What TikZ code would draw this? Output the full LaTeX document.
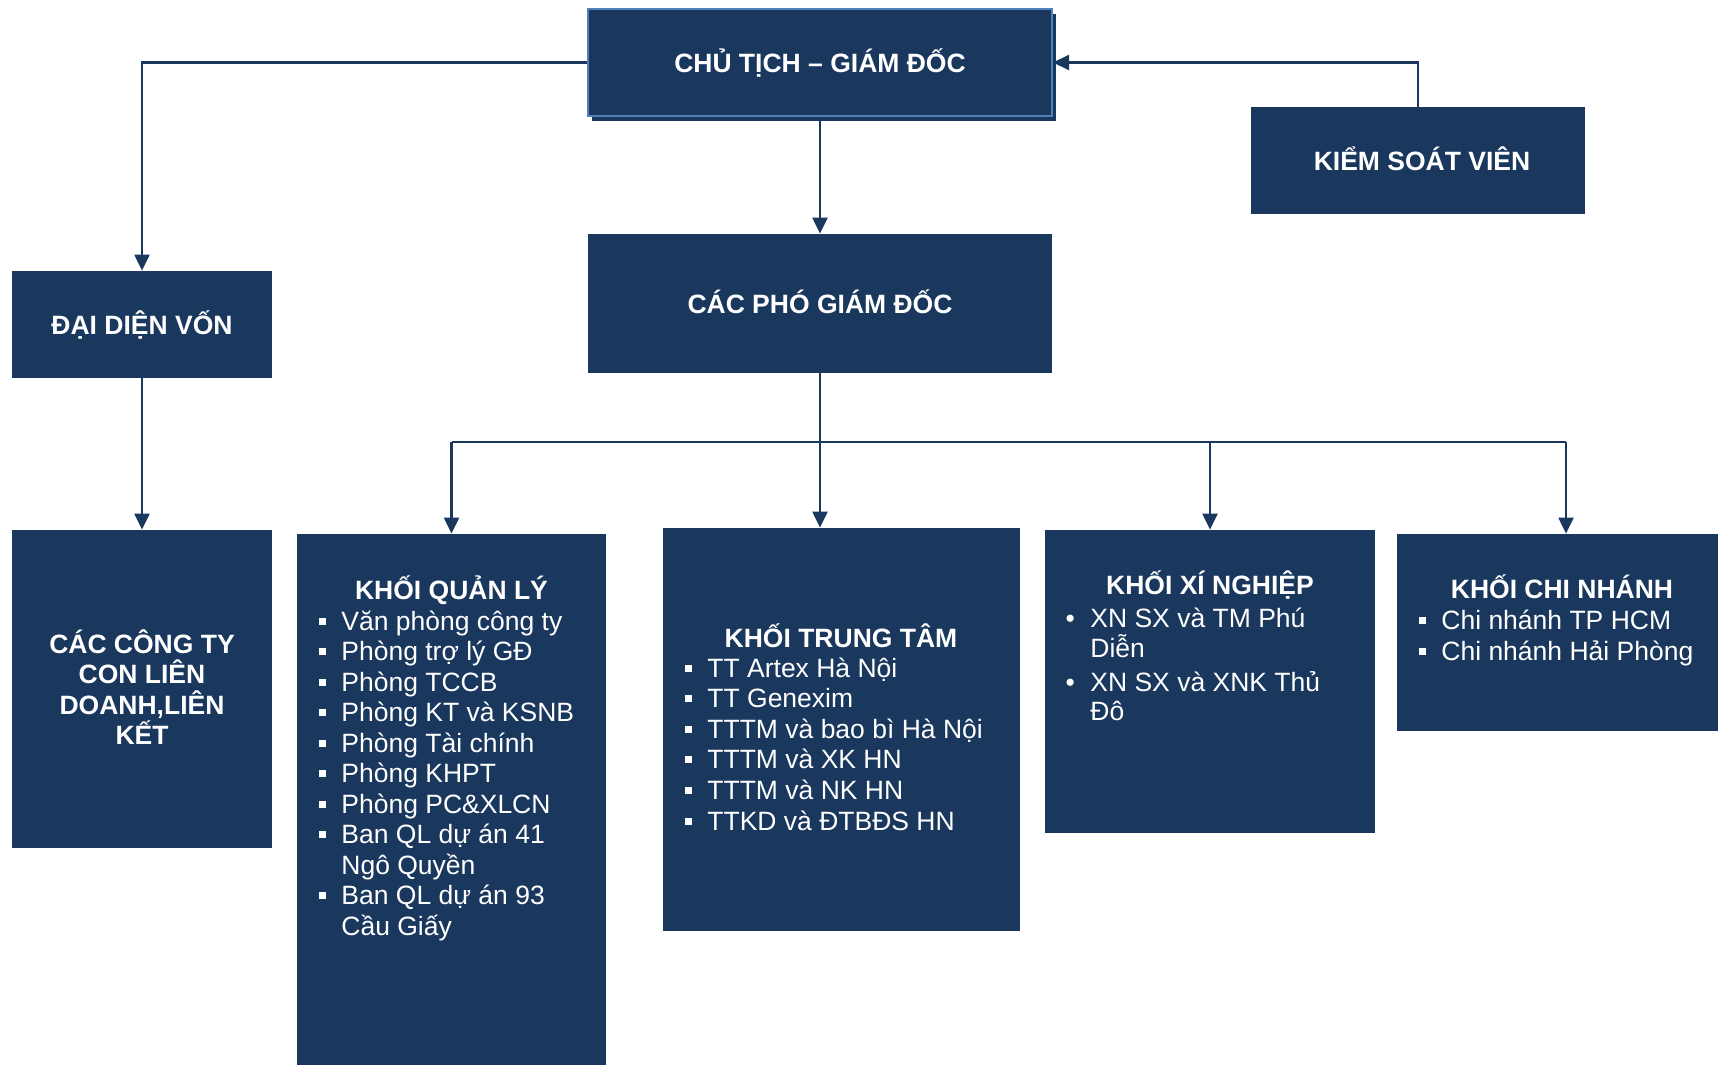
\documentclass[tikz,border=0pt]{standalone}
\usepackage{fontspec}
\setmainfont{Liberation Sans}
\usetikzlibrary{arrows.meta}
\definecolor{navy}{HTML}{1A375E}
\definecolor{edgeblue}{HTML}{4F81BD}
\newcommand\bsq{\llap{\rule[2.75pt]{3.5pt}{3.5pt}\hspace{7.75pt}}}
\newcommand\bdot{\llap{\textbullet\hspace{7.7pt}}}
\begin{document}
\begin{tikzpicture}[x=0.5pt,y=-0.5pt,
  orgbox/.style n args={2}{fill=navy, draw=none, inner sep=0pt, minimum width=#1*0.5pt, minimum height=#2*0.5pt},
  ttl/.style={text=white, inner sep=0pt, anchor=base, font=\bfseries\fontsize{13.25}{15.25}\selectfont},
  itm/.style={text=white, inner sep=0pt, anchor=base west, font=\fontsize{13.25}{15.25}\selectfont},
  bus/.style={draw=navy, line width=1.1pt},
  conn/.style={draw=navy, line width=1.1pt, -{Triangle[length=8pt,width=7.5pt]}}
]
\useasboundingbox (0,0) rectangle (1718,1065);
\fill[white] (0,0) rectangle (1718,1065);

% boxes
\fill[navy] (592,14) rectangle (1056,121);
\node[orgbox={464}{107}, draw=edgeblue, line width=1pt] (ct) at (820,62.5) {};
\node[orgbox={334}{107}] (ksv) at (1418,160.5) {};
\node[orgbox={260}{107}] (ddv) at (142,324.5) {};
\node[orgbox={464}{139}] (cpgd) at (820,303.5) {};
\node[orgbox={260}{318}] (cty) at (142,689) {};
\node[orgbox={309}{531}] (ql) at (451.5,799.5) {};
\node[orgbox={357}{403}] (tt) at (841.5,729.5) {};
\node[orgbox={330}{303}] (xn) at (1210,681.5) {};
\node[orgbox={321}{197}] (cn) at (1557.5,632.5) {};

% titles
\node[ttl] (t-ct) at (820,73) {CHỦ TỊCH – GIÁM ĐỐC};
\node[ttl] (t-ksv) at (1422,170) {KIỂM SOÁT VIÊN};
\node[ttl] (t-ddv) at (142,334.5) {ĐẠI DIỆN VỐN};
\node[ttl] (t-cpgd) at (820,313) {CÁC PHÓ GIÁM ĐỐC};
\foreach \t [count=\i from 0] in {{CÁC CÔNG TY},{CON LIÊN},{DOANH,LIÊN},{KẾT}}
  \node[ttl] (t-cty-\i) at (142,653+30.5*\i) {\t};
\node[ttl] (t-ql) at (451.5,599) {KHỐI QUẢN LÝ};
\node[ttl] (t-tt) at (841,647) {KHỐI TRUNG TÂM};
\node[ttl] (t-xn) at (1210,594) {KHỐI XÍ NGHIỆP};
\node[ttl] (t-cn) at (1562,598) {KHỐI CHI NHÁNH};

% lists
\foreach \t [count=\i from 0] in {{\bsq Văn phòng công ty},{\bsq Phòng trợ lý GĐ},{\bsq Phòng TCCB},{\bsq Phòng KT và KSNB},{\bsq Phòng Tài chính},{\bsq Phòng KHPT},{\bsq Phòng PC\&XLCN},{\bsq Ban QL dự án 41},{Ngô Quyền},{\bsq Ban QL dự án 93},{Cầu Giấy}}
  \node[itm] (ql-\i) at (341,630.5+30.45*\i) {\t};
\foreach \t [count=\i from 0] in {{\bsq TT Artex Hà Nội},{\bsq TT Genexim},{\bsq TTTM và bao bì Hà Nội},{\bsq TTTM và XK HN},{\bsq TTTM và NK HN},{\bsq TTKD và ĐTBĐS HN}}
  \node[itm] (tt-\i) at (707,677+30.6*\i) {\t};
\node[itm] (xn-0) at (1090,627) {\bdot XN SX và TM Phú};
\node[itm] (xn-1) at (1090,657) {Diễn};
\node[itm] (xn-2) at (1090,691) {\bdot XN SX và XNK Thủ};
\node[itm] (xn-3) at (1090,720) {Đô};
\node[itm] (cn-0) at (1441,629) {\bsq Chi nhánh TP HCM};
\node[itm] (cn-1) at (1441,660) {\bsq Chi nhánh Hải Phòng};

% connectors
\coordinate (busM) at (820,442);
\coordinate (busL) at (451.5,442);
\coordinate (busR) at (1566,442);
\draw[conn] (ct.west) -| (ddv.north);
\draw[conn] (ksv.north) |- (ct.east);
\draw[conn] (ct.south) -- (cpgd.north);
\draw[conn] (ddv.south) -- (cty.north);
\draw[bus] (cpgd.south) -- (busM);
\draw[bus] (busL) -- (busR);
\draw[conn] (busL) -- (ql.north);
\draw[conn] (busM) -- (busM |- tt.north);
\draw[conn] (busM -| xn.north) -- (xn.north);
\draw[conn] (busR) -- (busR |- cn.north);
\end{tikzpicture}
\end{document}
